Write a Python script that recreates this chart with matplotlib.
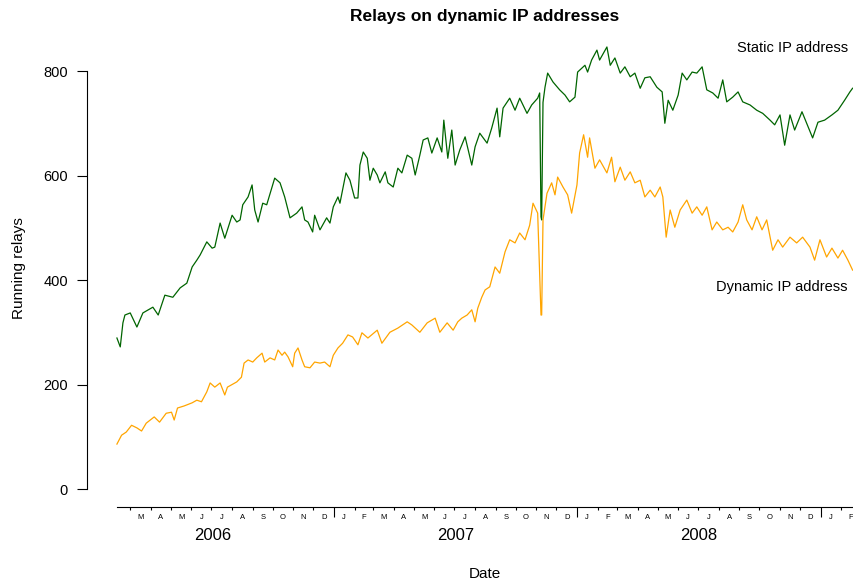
import matplotlib
matplotlib.use("Agg")
import matplotlib.pyplot as plt
import matplotlib.dates as mdates
import pandas as pd

plt.rcParams['font.family'] = ['Liberation Sans', 'DejaVu Sans']

# ---------------- data ----------------
static_dates = [
    "2006-02-09", "2006-02-14", "2006-02-18", "2006-02-21", "2006-03-01", "2006-03-11", "2006-03-20",
    "2006-04-04", "2006-04-12", "2006-04-22", "2006-05-04", "2006-05-15", "2006-05-25", "2006-06-02",
    "2006-06-09", "2006-06-14", "2006-06-24", "2006-07-02", "2006-07-06", "2006-07-14", "2006-07-21",
    "2006-08-01", "2006-08-08", "2006-08-13", "2006-08-17", "2006-08-25", "2006-08-31", "2006-09-04",
    "2006-09-09", "2006-09-16", "2006-09-22", "2006-09-30", "2006-10-04", "2006-10-12", "2006-10-19",
    "2006-10-27", "2006-11-06", "2006-11-14", "2006-11-18", "2006-11-23", "2006-11-30", "2006-12-03",
    "2006-12-11", "2006-12-21", "2006-12-26", "2006-12-31", "2007-01-07", "2007-01-10", "2007-01-19",
    "2007-01-25", "2007-02-01", "2007-02-06", "2007-02-09", "2007-02-14", "2007-02-20", "2007-02-24",
    "2007-03-01", "2007-03-07", "2007-03-11", "2007-03-19", "2007-03-23", "2007-03-31", "2007-04-07",
    "2007-04-13", "2007-04-21", "2007-04-28", "2007-05-03", "2007-05-10", "2007-05-15", "2007-05-22",
    "2007-05-28", "2007-06-05", "2007-06-12", "2007-06-15", "2007-06-21", "2007-06-27", "2007-07-02",
    "2007-07-09", "2007-07-17", "2007-07-27", "2007-08-01", "2007-08-08", "2007-08-19", "2007-08-26",
    "2007-09-03", "2007-09-07", "2007-09-12", "2007-09-22", "2007-09-30", "2007-10-07", "2007-10-18",
    "2007-10-25", "2007-11-03", "2007-11-06", "2007-11-08", "2007-11-09", "2007-11-11", "2007-11-14",
    "2007-11-18", "2007-11-26", "2007-12-06", "2007-12-14", "2007-12-21", "2007-12-29", "2008-01-02",
    "2008-01-13", "2008-01-17", "2008-01-23", "2008-01-31", "2008-02-04", "2008-02-15", "2008-02-20",
    "2008-02-27", "2008-03-06", "2008-03-13", "2008-03-21", "2008-03-28", "2008-04-05", "2008-04-12",
    "2008-04-20", "2008-04-30", "2008-05-08", "2008-05-12", "2008-05-17", "2008-05-24", "2008-06-01",
    "2008-06-07", "2008-06-14", "2008-06-22", "2008-06-29", "2008-07-07", "2008-07-14", "2008-07-23",
    "2008-07-31", "2008-08-07", "2008-08-13", "2008-08-22", "2008-08-30", "2008-09-06", "2008-09-17",
    "2008-09-27", "2008-10-06", "2008-10-17", "2008-10-24", "2008-11-01", "2008-11-08", "2008-11-16",
    "2008-11-23", "2008-12-04", "2008-12-11", "2008-12-20", "2008-12-28", "2009-01-07", "2009-01-18",
    "2009-01-27", "2009-02-06", "2009-02-14", "2009-02-18",
]
static_relays = [
    289, 272, 318, 333, 337, 310, 337,
    348, 333, 371, 367, 385, 394, 425,
    438, 448, 473, 461, 463, 509, 480,
    524, 511, 515, 544, 559, 582, 534,
    511, 547, 544, 578, 595, 586, 559,
    519, 528, 540, 515, 511, 492, 524,
    496, 519, 509, 540, 559, 547, 605,
    591, 557, 557, 620, 645, 633, 591,
    614, 601, 586, 607, 586, 578, 614,
    605, 639, 633, 601, 639, 668, 672,
    643, 672, 645, 706, 633, 687, 620,
    649, 674, 620, 655, 681, 662, 691,
    729, 674, 729, 748, 725, 748, 719,
    735, 748, 758, 521, 515, 740, 769,
    796, 779, 764, 754, 741, 750, 798,
    811, 798, 821, 840, 821, 846, 811,
    825, 796, 808, 789, 796, 767, 787,
    789, 769, 760, 700, 744, 725, 754,
    796, 783, 798, 796, 808, 764, 758,
    748, 783, 741, 750, 760, 741, 735,
    725, 719, 706, 697, 716, 658, 716,
    687, 722, 700, 672, 702, 706, 716,
    725, 744, 760, 767,
]

dynamic_dates = [
    "2006-02-09", "2006-02-16", "2006-02-23", "2006-03-03", "2006-03-11", "2006-03-18", "2006-03-25",
    "2006-04-06", "2006-04-14", "2006-04-24", "2006-05-02", "2006-05-06", "2006-05-11", "2006-05-21",
    "2006-06-02", "2006-06-09", "2006-06-16", "2006-06-24", "2006-06-29", "2006-07-06", "2006-07-14",
    "2006-07-21", "2006-07-25", "2006-08-08", "2006-08-15", "2006-08-19", "2006-08-25", "2006-09-01",
    "2006-09-07", "2006-09-15", "2006-09-19", "2006-09-27", "2006-10-04", "2006-10-09", "2006-10-15",
    "2006-10-19", "2006-10-24", "2006-10-31", "2006-11-03", "2006-11-08", "2006-11-14", "2006-11-18",
    "2006-11-26", "2006-12-03", "2006-12-11", "2006-12-18", "2006-12-26", "2006-12-31", "2007-01-07",
    "2007-01-14", "2007-01-22", "2007-01-29", "2007-02-06", "2007-02-12", "2007-02-21", "2007-03-07",
    "2007-03-14", "2007-03-26", "2007-04-07", "2007-04-21", "2007-04-28", "2007-05-10", "2007-05-21",
    "2007-06-02", "2007-06-09", "2007-06-20", "2007-06-29", "2007-07-06", "2007-07-12", "2007-07-20",
    "2007-07-27", "2007-08-01", "2007-08-05", "2007-08-11", "2007-08-16", "2007-08-23", "2007-08-31",
    "2007-09-07", "2007-09-15", "2007-09-22", "2007-09-30", "2007-10-07", "2007-10-15", "2007-10-22",
    "2007-10-27", "2007-11-03", "2007-11-08", "2007-11-09", "2007-11-11", "2007-11-17", "2007-11-24",
    "2007-11-29", "2007-12-03", "2007-12-11", "2007-12-18", "2007-12-24", "2008-01-01", "2008-01-05",
    "2008-01-11", "2008-01-17", "2008-01-20", "2008-01-28", "2008-02-04", "2008-02-15", "2008-02-22",
    "2008-02-27", "2008-03-06", "2008-03-13", "2008-03-21", "2008-03-28", "2008-04-05", "2008-04-12",
    "2008-04-20", "2008-04-27", "2008-05-05", "2008-05-09", "2008-05-14", "2008-05-20", "2008-05-27",
    "2008-06-04", "2008-06-14", "2008-06-22", "2008-06-29", "2008-07-07", "2008-07-14", "2008-07-22",
    "2008-07-29", "2008-08-07", "2008-08-15", "2008-08-22", "2008-08-30", "2008-09-06", "2008-09-12",
    "2008-09-20", "2008-09-27", "2008-10-05", "2008-10-12", "2008-10-21", "2008-10-29", "2008-11-05",
    "2008-11-16", "2008-11-26", "2008-12-05", "2008-12-16", "2008-12-23", "2008-12-31", "2009-01-10",
    "2009-01-18", "2009-01-27", "2009-02-03", "2009-02-11", "2009-02-18",
]
dynamic_relays = [
    86, 103, 109, 122, 117, 111, 126,
    138, 128, 145, 147, 132, 155, 159,
    165, 170, 167, 186, 203, 195, 203,
    180, 195, 205, 214, 241, 247, 243,
    251, 260, 243, 251, 247, 266, 256,
    262, 253, 234, 260, 270, 247, 234,
    232, 243, 241, 243, 234, 256, 270,
    279, 295, 291, 276, 299, 289, 304,
    279, 300, 308, 320, 314, 300, 318,
    327, 300, 318, 304, 320, 327, 333,
    343, 320, 346, 367, 381, 387, 425,
    413, 454, 477, 471, 490, 477, 505,
    547, 528, 333, 333, 515, 566, 586,
    563, 597, 578, 563, 528, 582, 643,
    678, 635, 672, 614, 630, 605, 635,
    588, 616, 591, 607, 586, 591, 559,
    572, 559, 578, 559, 482, 534, 501,
    534, 553, 528, 540, 524, 540, 496,
    511, 496, 501, 492, 511, 544, 515,
    496, 521, 496, 515, 457, 477, 463,
    482, 471, 482, 463, 438, 477, 444,
    461, 442, 457, 438, 419,
]

y_ticks = [0, 200, 400, 600, 800]
month_letters = ["J", "F", "M", "A", "M", "J", "J", "A", "S", "O", "N", "D"]
label_years = [2006, 2007, 2008]

# ---------------- figure ----------------
W, H = 854, 582
fig = plt.figure(figsize=(W / 100, H / 100), dpi=100)
left, right = 87.5 / W, 882 / W
bottom, top = 1 - 506.7 / H, 1 - 29.3 / H
ax = fig.add_axes([left, bottom, right - left, top - bottom])

sd = mdates.date2num(pd.to_datetime(static_dates))
dd = mdates.date2num(pd.to_datetime(dynamic_dates))

ax.plot(sd, static_relays, color="#006400", lw=0.9)
ax.plot(dd, dynamic_relays, color="#FFA500", lw=0.9)

x0 = min(sd[0], dd[0])
x1 = max(sd[-1], dd[-1])
span = x1 - x0
ax.set_xlim(x0 - 0.04 * span, x1 + 0.04 * span)
ymax = max(max(static_relays), max(dynamic_relays))
ax.set_ylim(-0.04 * ymax, 1.04 * ymax)

for s in ("top", "right"):
    ax.spines[s].set_visible(False)
ax.spines["left"].set_bounds(y_ticks[0], y_ticks[-1])
ax.spines["bottom"].set_bounds(x0, x1)
for s in ("left", "bottom"):
    ax.spines[s].set_linewidth(0.8)

ax.set_yticks(y_ticks)
ax.set_yticklabels([str(v) for v in y_ticks])
ax.tick_params(axis="y", length=7, width=0.8, pad=7, labelsize=10.5)

# x ticks: year boundaries long, month boundaries short
start = pd.Timestamp(mdates.num2date(x0).date())
end = pd.Timestamp(mdates.num2date(x1).date())
month_starts = pd.date_range(start.normalize() + pd.offsets.MonthBegin(1), end, freq="MS")
year_starts = [m for m in month_starts if m.month == 1]
minor = [m for m in month_starts if m.month != 1]
ax.set_xticks(mdates.date2num(year_starts))
ax.set_xticklabels([])
ax.set_xticks(mdates.date2num(minor), minor=True)
ax.tick_params(axis="x", which="major", length=7, width=0.8)
ax.tick_params(axis="x", which="minor", length=2.2, width=0.8)

trans = ax.get_xaxis_transform()
for m in month_starts:
    nxt = m + pd.offsets.MonthBegin(1)
    mid = mdates.date2num(m) + (mdates.date2num(nxt) - mdates.date2num(m)) / 2
    ax.text(mid, -0.0216, month_letters[m.month - 1], transform=trans,
            ha="center", va="center", fontsize=5.5, clip_on=False)
for y in label_years:
    mid = (mdates.date2num(pd.Timestamp(f"{y}-01-01")) + mdates.date2num(pd.Timestamp(f"{y + 1}-01-01"))) / 2
    ax.text(mid, -0.0603, str(y), transform=trans, ha="center", va="center",
            fontsize=12, clip_on=False)

lab_x = mdates.date2num(pd.Timestamp("2009-02-11"))
ax.text(lab_x, 844, "Static IP address", ha="right", va="center", fontsize=10.5)
ax.text(lab_x, 386, "Dynamic IP address", ha="right", va="center", fontsize=10.5)

cx = (87.5 + 882) / 2 / W
fig.text(cx, 1 - 17 / H, "Relays on dynamic IP addresses", ha="center", va="center",
         fontsize=12.5, fontweight="bold")
fig.text(cx, 1 - 574 / H, "Date", ha="center", va="center", fontsize=11)
fig.text(19 / W, 1 - 268 / H, "Running relays", ha="center", va="center",
         rotation=90, fontsize=11)

fig.savefig("out.png", dpi=100)
